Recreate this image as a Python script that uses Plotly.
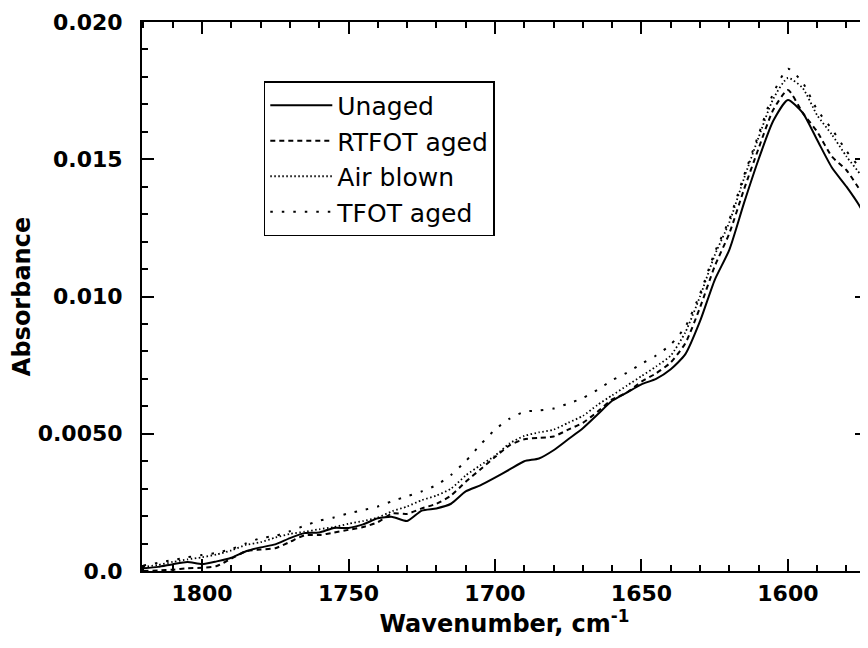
import plotly.graph_objects as go

wavenumber = [1820, 1815, 1810, 1805, 1800, 1795, 1790, 1785, 1780, 1775,
              1770, 1765, 1760, 1755, 1750, 1745, 1740, 1735, 1730, 1725,
              1720, 1715, 1710, 1705, 1700, 1695, 1690, 1685, 1680, 1675,
              1670, 1665, 1660, 1655, 1650, 1645, 1640, 1635, 1630, 1625,
              1620, 1615, 1610, 1605, 1600, 1595, 1590, 1585, 1580, 1575, 1573]

unaged = [0.00010, 0.00015, 0.00025, 0.00033, 0.00025, 0.00035, 0.00048, 0.00072, 0.00086, 0.00097,
          0.00120, 0.00138, 0.00140, 0.00157, 0.00157, 0.00170, 0.00192, 0.00197, 0.00182, 0.00220,
          0.00228, 0.00245, 0.00290, 0.00312, 0.00340, 0.00370, 0.00400, 0.00410, 0.00440, 0.00480,
          0.00520, 0.00570, 0.00620, 0.00650, 0.00680, 0.00700, 0.00735, 0.00790, 0.00910, 0.01060,
          0.01170, 0.01340, 0.01500, 0.01640, 0.01716, 0.01670, 0.01570, 0.01470, 0.01400, 0.01320, 0.01270]

rtfot_aged = [0.00000, 0.00002, 0.00005, 0.00010, 0.00012, 0.00018, 0.00045, 0.00072, 0.00078, 0.00083,
              0.00106, 0.00130, 0.00131, 0.00140, 0.00150, 0.00160, 0.00178, 0.00210, 0.00208, 0.00228,
              0.00245, 0.00275, 0.00325, 0.00370, 0.00415, 0.00458, 0.00480, 0.00485, 0.00490, 0.00515,
              0.00540, 0.00580, 0.00625, 0.00650, 0.00690, 0.00720, 0.00760, 0.00830, 0.00960, 0.01110,
              0.01230, 0.01390, 0.01540, 0.01680, 0.01752, 0.01670, 0.01600, 0.01510, 0.01460, 0.01380, 0.01335]

air_blown = [0.00015, 0.00022, 0.00033, 0.00042, 0.00050, 0.00060, 0.00075, 0.00095, 0.00105, 0.00122,
             0.00135, 0.00143, 0.00152, 0.00160, 0.00172, 0.00182, 0.00195, 0.00218, 0.00235, 0.00258,
             0.00275, 0.00300, 0.00348, 0.00385, 0.00420, 0.00465, 0.00492, 0.00505, 0.00515, 0.00540,
             0.00565, 0.00605, 0.00640, 0.00675, 0.00710, 0.00745, 0.00785, 0.00870, 0.01000, 0.01150,
             0.01270, 0.01430, 0.01580, 0.01720, 0.01796, 0.01760, 0.01660, 0.01590, 0.01510, 0.01440, 0.01390]

tfot_aged = [0.00020, 0.00030, 0.00040, 0.00050, 0.00058, 0.00066, 0.00080, 0.00100, 0.00120, 0.00128,
             0.00145, 0.00165, 0.00183, 0.00195, 0.00210, 0.00222, 0.00235, 0.00255, 0.00272, 0.00290,
             0.00313, 0.00350, 0.00400, 0.00460, 0.00515, 0.00555, 0.00580, 0.00585, 0.00592, 0.00610,
             0.00630, 0.00660, 0.00695, 0.00722, 0.00755, 0.00785, 0.00825, 0.00890, 0.01010, 0.01160,
             0.01280, 0.01440, 0.01590, 0.01740, 0.01830, 0.01780, 0.01680, 0.01610, 0.01530, 0.01460, 0.01410]

series_names = ["Unaged", "RTFOT aged", "Air blown", "TFOT aged"]
x_tickvals = [1800, 1750, 1700, 1650, 1600]
y_tickvals = [0.0, 0.005, 0.010, 0.015, 0.020]
y_ticktext = ["0.0", "0.0050", "0.010", "0.015", "0.020"]

series = [unaged, rtfot_aged, air_blown, tfot_aged]
dashes = ["solid", "5px,4px", "1.5px,2.5px", "2.5px,9px"]
widths = [2, 2, 1.8, 2]

fig = go.Figure()
for name, ys, d, w in zip(series_names, series, dashes, widths):
    fig.add_trace(go.Scatter(x=wavenumber, y=ys, mode="lines", name=name,
                             line=dict(color="black", width=w, dash=d, shape="spline", smoothing=0.6)))

tick_font = dict(family="DejaVu Sans, Arial, sans-serif", size=22, color="black", weight="bold")
title_font = dict(family="DejaVu Sans, Arial, sans-serif", size=24, color="black", weight="bold")

fig.update_layout(
    width=868, height=648,
    margin=dict(l=134, r=9, t=14, b=85),
    paper_bgcolor="white", plot_bgcolor="white",
    showlegend=True,
    legend=dict(x=0.168, y=0.8925, xanchor="left", yanchor="top",
                bordercolor="black", borderwidth=1.5, bgcolor="white",
                font=dict(family="DejaVu Sans, Arial, sans-serif", size=25, color="black"),
                tracegroupgap=0, itemwidth=62),
)
fig.update_xaxes(
    range=[1820.5, 1573], autorange=False, automargin=False,
    tickvals=x_tickvals, ticktext=[str(v) for v in x_tickvals],
    ticks="inside", ticklen=12, tickwidth=1.5, tickcolor="black",
    minor=dict(dtick=10, ticks="inside", ticklen=6, tickwidth=1.5, tickcolor="black"),
    showline=True, linecolor="black", linewidth=2, mirror="allticks",
    showgrid=False, zeroline=False,
    tickfont=tick_font, ticklabelstandoff=2,
    title=dict(text="Wavenumber, cm<sup>-1</sup>", font=title_font, standoff=6),
)
fig.update_yaxes(
    range=[0, 0.020], autorange=False, automargin=False,
    tickvals=y_tickvals, ticktext=y_ticktext,
    ticks="inside", ticklen=12, tickwidth=1.5, tickcolor="black",
    minor=dict(dtick=0.001, ticks="inside", ticklen=6, tickwidth=1.5, tickcolor="black"),
    showline=True, linecolor="black", linewidth=2, mirror="allticks",
    showgrid=False, zeroline=False,
    tickfont=tick_font, ticklabelstandoff=13,
    title=dict(text="Absorbance", font=title_font, standoff=0),
)

fig.write_html("out.html")
